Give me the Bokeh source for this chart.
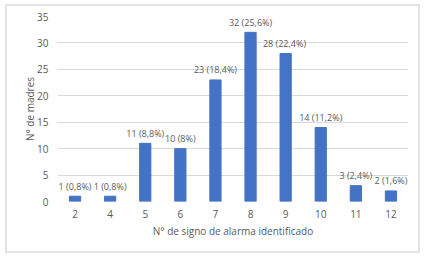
from bokeh.plotting import figure
from bokeh.models import ColumnDataSource, Range1d, FactorRange, SingleIntervalTicker
from bokeh.core.properties import value
from bokeh.embed import file_html
from bokeh.resources import INLINE

categories = ["2", "4", "5", "6", "7", "8", "9", "10", "11", "12"]
values = [1, 1, 11, 10, 23, 32, 28, 14, 3, 2]
labels = ["1 (0,8%)", "1 (0,8%)", "11 (8,8%)", "10 (8%)", "23 (18,4%)",
          "32 (25,6%)", "28  (22,4%)", "14 (11,2%)", "3 (2,4%)", "2 (1,6%)"]

FONT = "Open Sans"
GREY = "#595959"
W, H = 415, 249

src = ColumnDataSource(dict(cat=categories, val=values, lab=labels))

p = figure(width=W, height=H, x_range=FactorRange(*categories),
           y_range=Range1d(0, 35), output_backend="svg", toolbar_location=None,
           min_border_left=52, min_border_right=12, min_border_top=12,
           min_border_bottom=52, margin=(4, 0, 0, 5))
p.styles = {"outline": "2px solid #e3e3e3", "outline-offset": "-2px"}
p.outline_line_color = None
p.background_fill_color = "white"
p.border_fill_color = None

p.vbar(x="cat", top="val", width=0.32, source=src, color="#4472C4")
p.text(x="cat", y="val", text="lab", source=src, text_align="center",
       text_baseline="middle", y_offset=-10, text_font=value(FONT),
       text_font_size="9px", text_color=GREY)

p.xgrid.grid_line_color = None
p.ygrid.grid_line_color = "#d9d9d9"
p.ygrid.grid_line_width = 1
p.yaxis.ticker = SingleIntervalTicker(interval=5)

for ax in (p.xaxis[0], p.yaxis[0]):
    ax.axis_line_color = None
    ax.major_tick_line_color = None
    ax.minor_tick_line_color = None
    ax.major_tick_out = 0
    ax.major_tick_in = 0
    ax.major_label_text_font = FONT
    ax.major_label_text_font_size = "10px"
    ax.major_label_text_color = GREY
    ax.axis_label_text_font = FONT
    ax.axis_label_text_font_size = "10px"
    ax.axis_label_text_font_style = "normal"
    ax.axis_label_text_color = GREY

p.xaxis.axis_label = "N° de signo de alarma identificado"
p.yaxis.axis_label = "N° de madres"
p.yaxis.major_label_standoff = 5
p.xaxis.major_label_standoff = 8
p.xaxis.axis_label_standoff = 3
p.yaxis.axis_label_standoff = -3

open("out.html", "w").write(file_html(p, INLINE))
